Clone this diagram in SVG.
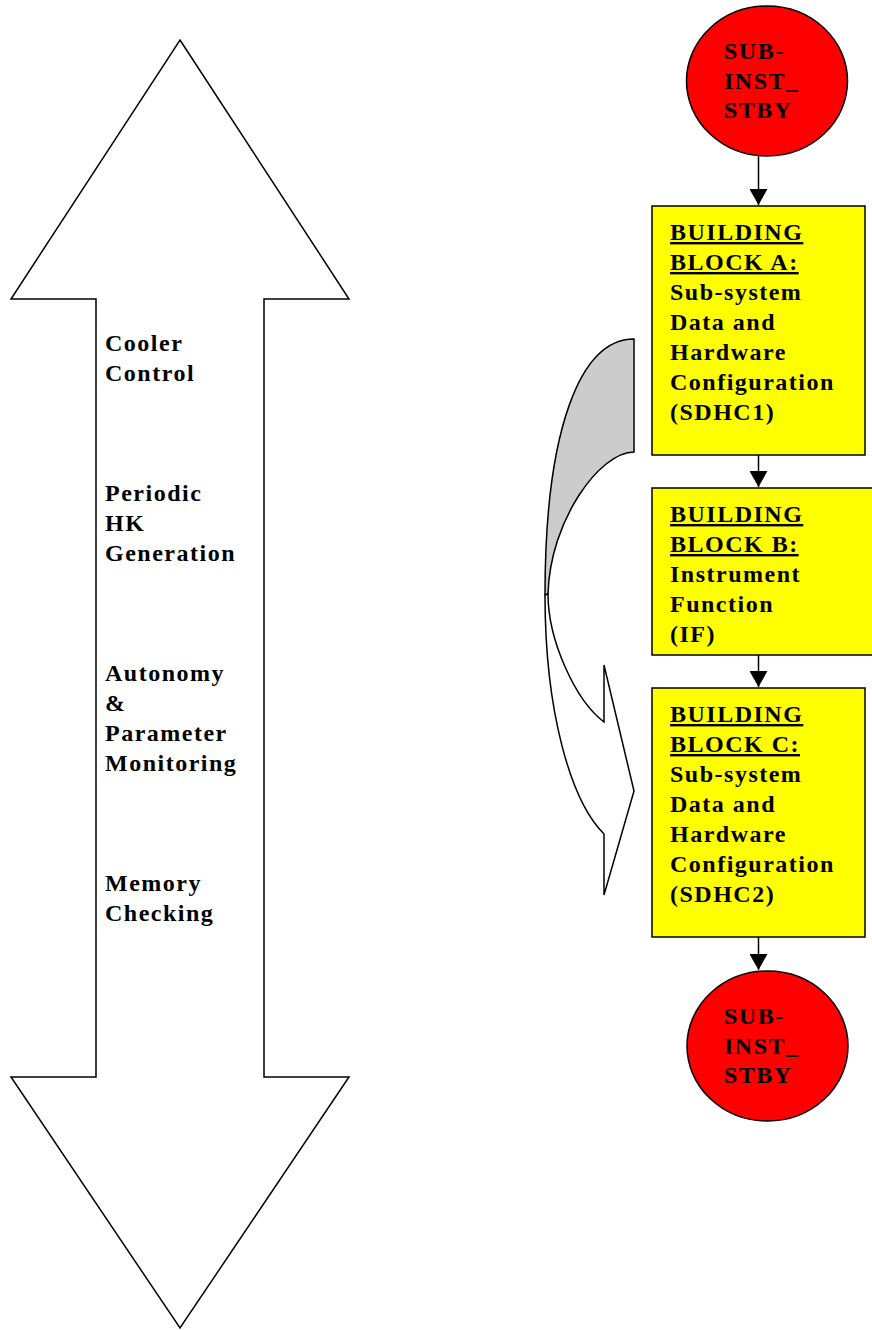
<svg xmlns="http://www.w3.org/2000/svg" width="872" height="1330" viewBox="0 0 872 1330">
<style>
.t{font-family:"Liberation Serif","Times New Roman",serif;font-weight:bold;font-size:24px;letter-spacing:1.5px;fill:#000}
.u{text-decoration:underline}
.o{stroke:#000;stroke-width:1.5;stroke-linejoin:miter}
.c{stroke:#000;stroke-width:1.5;fill:none}
</style>
<defs>
<marker id="ah" markerUnits="userSpaceOnUse" markerWidth="18" markerHeight="18" refX="16" refY="9" orient="auto">
<path d="M0,0 L16,9 L0,18 Z" fill="#000"/>
</marker>
</defs>

<g id="double-arrow">
<path class="o" fill="#fff" d="M180,40 L349,299 L264,299 L264,1077 L349,1077 L180,1328 L11,1077 L96,1077 L96,299 L11,299 Z"/>
<text class="t" x="105" y="351">Cooler</text>
<text class="t" x="105" y="381">Control</text>
<text class="t" x="105" y="501">Periodic</text>
<text class="t" x="105" y="531">HK</text>
<text class="t" x="105" y="561">Generation</text>
<text class="t" x="105" y="681">Autonomy</text>
<text class="t" x="105" y="711">&amp;</text>
<text class="t" x="105" y="741">Parameter</text>
<text class="t" x="105" y="771">Monitoring</text>
<text class="t" x="105" y="891">Memory</text>
<text class="t" x="105" y="921">Checking</text>
</g>

<g id="curved-arrow">
<path class="o" fill="#cccccc" d="M634,339 C580,339 545,430 545,595 L548,594 C550,520 600,452 634,452 Z"/>
<path class="o" fill="#fff" d="M545,595 C545,710 570,800 604,834 L604,895 L634,791 L604,665 L604,722 C575,700 548,640 548,594 Z"/>
</g>

<g id="connectors">
<line class="c" x1="758.5" y1="156" x2="758.5" y2="205" marker-end="url(#ah)"/>
<line class="c" x1="758.5" y1="455" x2="758.5" y2="487" marker-end="url(#ah)"/>
<line class="c" x1="758.5" y1="655" x2="758.5" y2="687" marker-end="url(#ah)"/>
<line class="c" x1="758.5" y1="937" x2="758.5" y2="970" marker-end="url(#ah)"/>
</g>

<g id="start">
<ellipse class="o" fill="#ff0000" cx="767" cy="81" rx="80.5" ry="75"/>
<text class="t" x="724" y="59">SUB-</text>
<text class="t" x="724" y="89">INST_</text>
<text class="t" x="724" y="118">STBY</text>
</g>

<g id="block-a">
<rect class="o" fill="#ffff00" x="652" y="206" width="213" height="249"/>
<text class="t u" x="670" y="240">BUILDING</text>
<text class="t u" x="670" y="270">BLOCK A:</text>
<text class="t" x="670" y="300">Sub-system</text>
<text class="t" x="670" y="330">Data and</text>
<text class="t" x="670" y="360">Hardware</text>
<text class="t" x="670" y="390">Configuration</text>
<text class="t" x="670" y="420">(SDHC1)</text>
</g>

<g id="block-b">
<rect class="o" fill="#ffff00" x="652" y="488" width="230" height="167"/>
<text class="t u" x="670" y="522">BUILDING</text>
<text class="t u" x="670" y="552">BLOCK B:</text>
<text class="t" x="670" y="582">Instrument</text>
<text class="t" x="670" y="612">Function</text>
<text class="t" x="670" y="642">(IF)</text>
</g>

<g id="block-c">
<rect class="o" fill="#ffff00" x="652" y="688" width="213" height="249"/>
<text class="t u" x="670" y="722">BUILDING</text>
<text class="t u" x="670" y="752">BLOCK C:</text>
<text class="t" x="670" y="782">Sub-system</text>
<text class="t" x="670" y="812">Data and</text>
<text class="t" x="670" y="842">Hardware</text>
<text class="t" x="670" y="872">Configuration</text>
<text class="t" x="670" y="902">(SDHC2)</text>
</g>

<g id="end">
<ellipse class="o" fill="#ff0000" cx="767.5" cy="1046" rx="80.5" ry="75"/>
<text class="t" x="724" y="1024">SUB-</text>
<text class="t" x="724" y="1054">INST_</text>
<text class="t" x="724" y="1083">STBY</text>
</g>
</svg>
